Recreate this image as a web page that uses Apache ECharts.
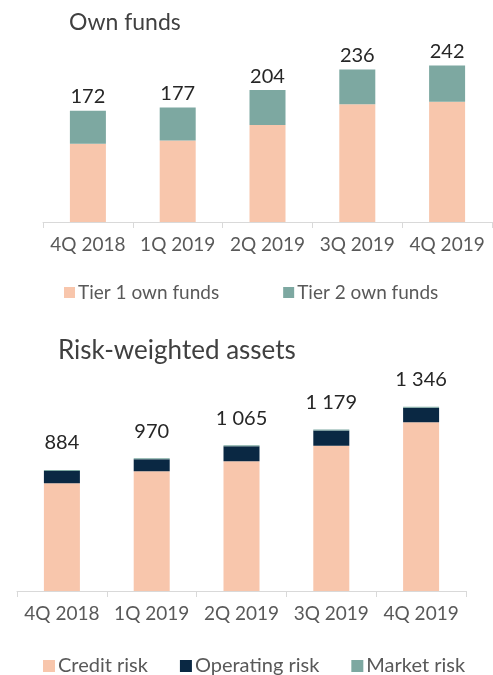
<!DOCTYPE html>
<html>
  <head>
    <meta charset="utf-8" />
    <title>Own funds / RWA</title>
    <script src="https://cdn.jsdelivr.net/npm/echarts@6/dist/echarts.min.js"></script>
  </head>
  <body style="margin:0">
    <div id="container" style="width: 493px;height: 675px;"></div>

    <script type="text/javascript">
    // data
    var quarters = ['4Q 2018', '1Q 2019', '2Q 2019', '3Q 2019', '4Q 2019'];
    var tier1 = [121, 126, 150, 182, 186];
    var tier2 = [51, 51, 54, 54, 56];
    var creditRisk = [787, 875, 948, 1062, 1232];
    var operatingRisk = [90, 88, 110, 110, 107];
    var marketRisk = [7, 7, 7, 7, 7];

    var peach = '#F8C6AC', teal = '#7DA8A1', navy = '#0A2843';
    var font = 'Lato';

    function fmt(v) {
      // thousands separated by a space, like the source
      return String(v).replace(/\B(?=(\d{3})+(?!\d))/g, ' ');
    }
    function sumAt(arrs, i) {
      var s = 0;
      arrs.forEach(function (a) { s += a[i]; });
      return s;
    }

    var myChart = echarts.init(document.getElementById('container'));

    var xAxisBase = {
      type: 'category',
      data: quarters,
      axisLine: { lineStyle: { color: '#D9D9D9', width: 1 } },
      axisTick: { show: true, length: 6, lineStyle: { color: '#D9D9D9' } },
      axisLabel: { interval: 0, color: '#595959', fontSize: 19, fontFamily: font, margin: 13 }
    };
    var yAxisBase = {
      type: 'value',
      min: 0,
      axisLine: { show: false },
      axisTick: { show: false },
      axisLabel: { show: false },
      splitLine: { show: false }
    };
    var totalLabel = function (arrs, dist) {
      return {
        show: true,
        position: 'top',
        distance: dist,
        color: '#262626',
        fontSize: 20,
        fontFamily: font,
        formatter: function (p) { return fmt(sumAt(arrs, p.dataIndex)); }
      };
    };

    var option = {
      animation: false,
      title: [
        { text: 'Own funds', left: 64, top: 6,
          textStyle: { fontSize: 23, fontWeight: 'normal', color: '#404040', fontFamily: font } },
        { text: 'Risk-weighted assets', left: 53, top: 333,
          textStyle: { fontSize: 26, fontWeight: 'normal', color: '#404040', fontFamily: font } }
      ],
      legend: [
        { left: 59, top: 278, itemWidth: 11, itemHeight: 11, itemGap: 64, icon: 'rect',
          textStyle: { fontSize: 19, color: '#595959', fontFamily: font, padding: [0, 0, 0, -2] },
          data: ['Tier 1 own funds', 'Tier 2 own funds'] },
        { left: 38, top: 651, itemWidth: 12, itemHeight: 12, itemGap: 32, icon: 'rect',
          textStyle: { fontSize: 20, color: '#595959', fontFamily: font, padding: [0, 0, 0, -2] },
          data: ['Credit risk', 'Operating risk', 'Market risk'] }
      ],
      grid: [
        { left: 43, right: 1, top: 28, height: 194 },
        { left: 17, right: 27, top: 372, height: 219 }
      ],
      xAxis: [
        Object.assign({ gridIndex: 0 }, xAxisBase),
        Object.assign({ gridIndex: 1 }, xAxisBase)
      ],
      yAxis: [
        Object.assign({ gridIndex: 0, max: 300 }, yAxisBase),
        Object.assign({ gridIndex: 1, max: 1600 }, yAxisBase)
      ],
      series: [
        { name: 'Tier 1 own funds', type: 'bar', stack: 'of', xAxisIndex: 0, yAxisIndex: 0,
          barWidth: 36, itemStyle: { color: peach }, data: tier1 },
        { name: 'Tier 2 own funds', type: 'bar', stack: 'of', xAxisIndex: 0, yAxisIndex: 0,
          barWidth: 36, itemStyle: { color: teal }, data: tier2,
          label: totalLabel([tier1, tier2], 4) },
        { name: 'Credit risk', type: 'bar', stack: 'rwa', xAxisIndex: 1, yAxisIndex: 1,
          barWidth: 36, itemStyle: { color: peach }, data: creditRisk },
        { name: 'Operating risk', type: 'bar', stack: 'rwa', xAxisIndex: 1, yAxisIndex: 1,
          barWidth: 36, itemStyle: { color: navy }, data: operatingRisk },
        { name: 'Market risk', type: 'bar', stack: 'rwa', xAxisIndex: 1, yAxisIndex: 1,
          barWidth: 36, itemStyle: { color: teal }, data: marketRisk,
          label: totalLabel([creditRisk, operatingRisk, marketRisk], 17) }
      ]
    };

    myChart.setOption(option);
    window.addEventListener('resize', myChart.resize);
    </script>
  </body>
</html>
